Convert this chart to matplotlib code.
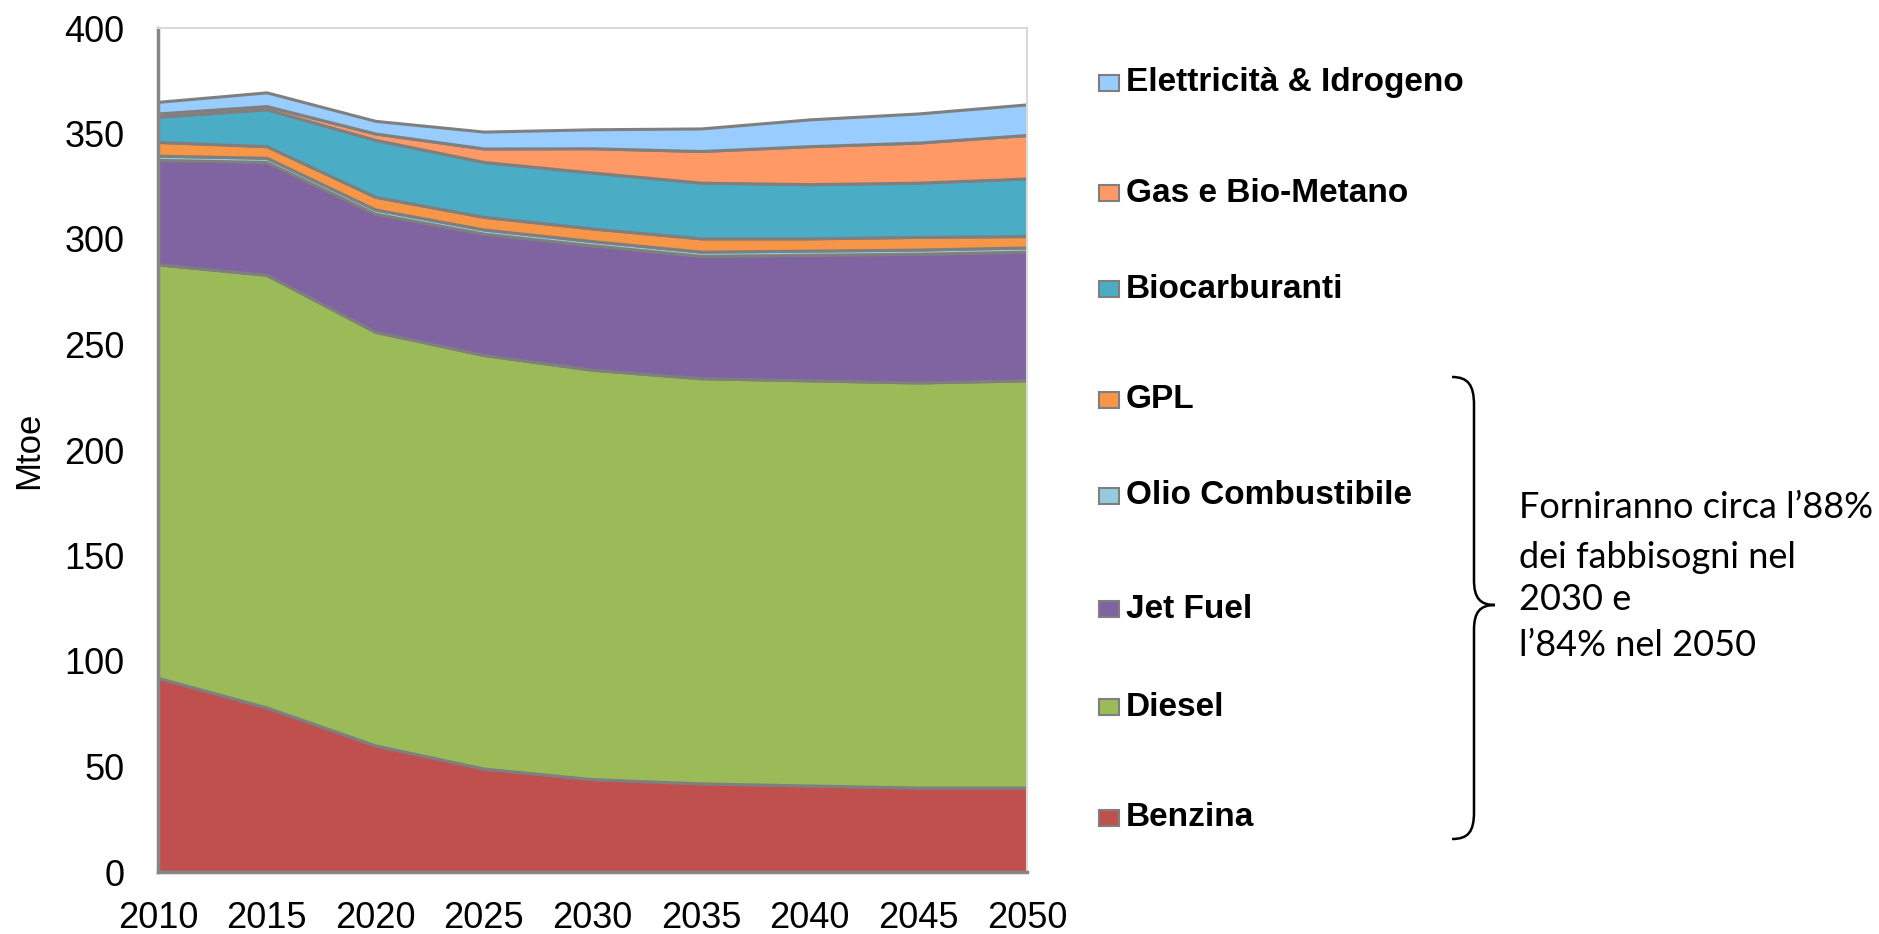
import matplotlib
matplotlib.use("Agg")
import matplotlib.pyplot as plt
from matplotlib.patches import Rectangle, PathPatch
from matplotlib.path import Path

# Dati (Mtoe)
years = [2010, 2015, 2020, 2025, 2030, 2035, 2040, 2045, 2050]
benzina = [92, 78, 60, 49, 44, 42, 41, 40, 40]
diesel = [196, 205, 196, 196, 194, 192, 192, 192, 193]
jet_fuel = [49.5, 53.5, 56, 57.5, 59, 58, 59.5, 61, 61]
olio = [2, 2, 2, 2, 2, 2, 2, 2, 2]
gpl = [6.5, 5.5, 6, 6, 6, 6.3, 5.8, 6, 5.4]
bio = [12, 17.5, 27, 26, 26.5, 26.4, 25.7, 25.7, 27.3]
gas = [1.5, 1.5, 3, 6.4, 11.5, 15, 18, 19, 20.6]
elettricita = [5.5, 6.5, 6, 8, 9, 10.7, 12.7, 13.8, 14.5]

series = [benzina, diesel, jet_fuel, olio, gpl, bio, gas, elettricita]
labels = ["Benzina", "Diesel", "Jet Fuel", "Olio Combustibile", "GPL",
          "Biocarburanti", "Gas e Bio-Metano", "Elettricità & Idrogeno"]
colors = ["#C0504D", "#9BBB59", "#8064A2", "#93CDDD", "#F79646",
          "#4BACC6", "#FF9966", "#99CCFF"]

y_ticks = [0, 50, 100, 150, 200, 250, 300, 350, 400]

note_lines = ["Forniranno circa l’88%", "dei fabbisogni nel", "2030 e", "l’84% nel 2050"]

W, H = 1879, 934

def fx(px):
    return px / W

def fy(py):
    return 1 - py / H

fig = plt.figure(figsize=(W / 100, H / 100), dpi=100)
ax = fig.add_axes([fx(158), fy(872), fx(1027) - fx(158), fy(28) - fy(872)])

ax.stackplot(years, *series, colors=colors, edgecolor="#7f7f7f", linewidth=2.2)

ax.set_xlim(2010, 2050)
ax.set_ylim(0, 400)
ax.set_xticks(years)
ax.set_yticks(y_ticks)
ax.tick_params(length=0, labelsize=26, colors="black")
ax.tick_params(axis="y", pad=24)
ax.tick_params(axis="x", pad=21)
for lab in ax.get_xticklabels() + ax.get_yticklabels():
    lab.set_family("Liberation Sans")
ax.set_ylabel("Mtoe", fontsize=25, family="Liberation Sans", labelpad=14)

for side in ["left", "bottom"]:
    ax.spines[side].set_color("#868686")
    ax.spines[side].set_linewidth(2.5)
for side in ["top", "right"]:
    ax.spines[side].set_color("#d9d9d9")
    ax.spines[side].set_linewidth(1.5)

# Legenda manuale (dall'alto in basso)
legend_y = [83, 193, 289, 400, 496, 609, 707, 818]
for i, yc in enumerate(legend_y):
    k = len(labels) - 1 - i
    fig.patches.append(Rectangle((fx(1099), fy(yc + 8)), fx(20), fy(0) - fy(16),
                                 transform=fig.transFigure, facecolor=colors[k],
                                 edgecolor="#7f7f7f", linewidth=1.5))
    fig.text(fx(1126), fy(yc), labels[k], fontsize=24, fontweight="bold",
             family="Liberation Sans", va="center", ha="left")

# Parentesi graffa
pts = [(1452, 377), (1468, 377), (1474, 385), (1474, 405),
       (1474, 580),
       (1474, 598), (1480, 605), (1495, 605),
       (1480, 605), (1474, 612), (1474, 630),
       (1474, 812),
       (1474, 832), (1468, 839), (1452, 839)]
codes = [Path.MOVETO, Path.CURVE4, Path.CURVE4, Path.CURVE4,
         Path.LINETO,
         Path.CURVE4, Path.CURVE4, Path.CURVE4,
         Path.CURVE4, Path.CURVE4, Path.CURVE4,
         Path.LINETO,
         Path.CURVE4, Path.CURVE4, Path.CURVE4]
brace = Path([(fx(x), fy(y)) for x, y in pts], codes)
fig.patches.append(PathPatch(brace, transform=fig.transFigure, facecolor="none",
                             edgecolor="black", linewidth=1.8))

note_y = [507, 558, 600, 646]
for line, yc in zip(note_lines, note_y):
    fig.text(fx(1519), fy(yc), line, fontsize=26, family="Lato",
             va="center", ha="left")

fig.savefig("out.png", dpi=100)
